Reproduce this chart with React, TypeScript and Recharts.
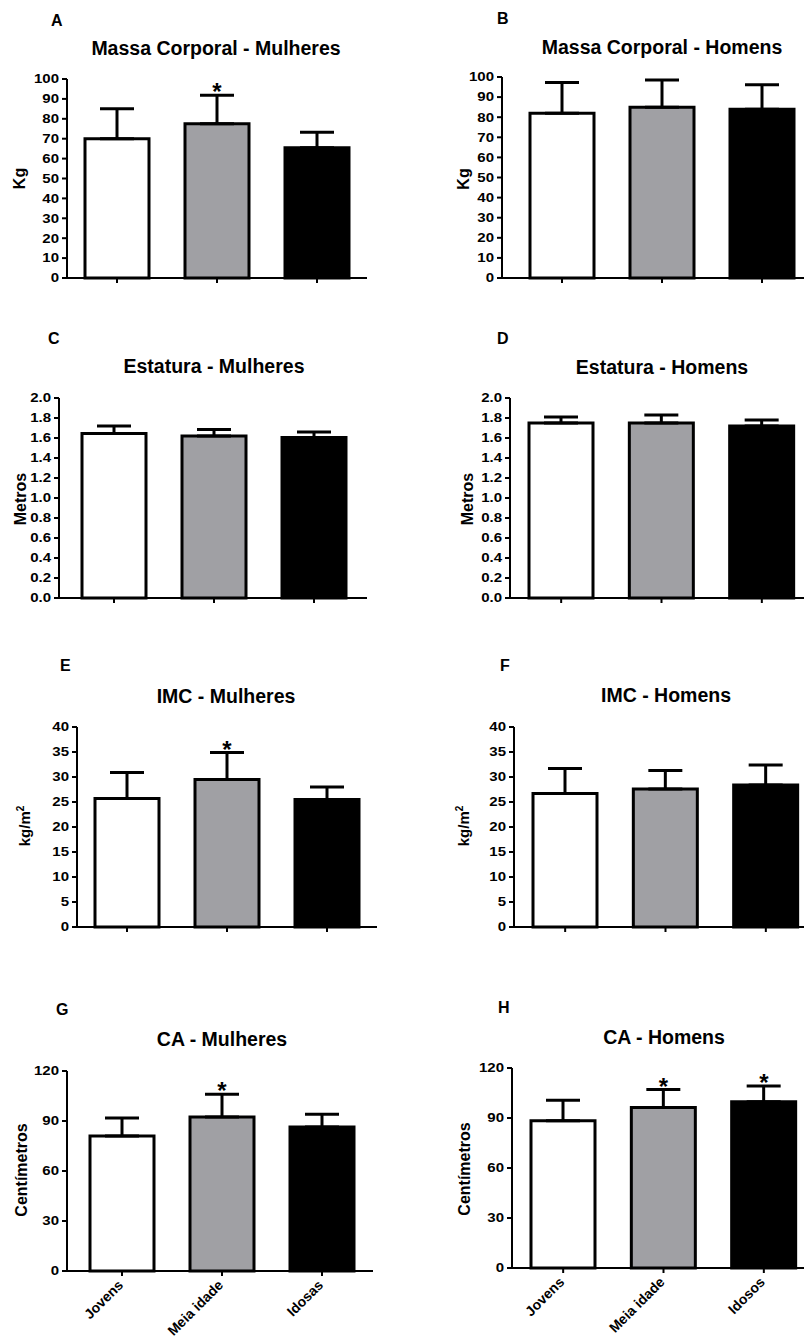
import React from 'react';
import { ComposedChart, Bar, Cell, ErrorBar, Line, XAxis, YAxis } from 'recharts';

const FONT = '"Liberation Sans", Arial, Helvetica, sans-serif';

// grupos etários
const gruposF = ['Jovens', 'Meia idade', 'Idosas'];
const gruposM = ['Jovens', 'Meia idade', 'Idosos'];
const cores = ['#ffffff', '#a0a0a4', '#000000'];

// massa corporal (kg) - média e desvio padrão
const massaF = [70, 77.5, 65.5];
const massaFdp = [15, 14.3, 7.8];
const massaM = [82, 85, 84];
const massaMdp = [15.3, 13.5, 12.2];

// estatura (m)
const estaturaF = [1.645, 1.62, 1.605];
const estaturaFdp = [0.075, 0.065, 0.055];
const estaturaM = [1.75, 1.75, 1.72];
const estaturaMdp = [0.06, 0.08, 0.06];

// IMC (kg/m2)
const imcF = [25.7, 29.5, 25.5];
const imcFdp = [5.2, 5.4, 2.5];
const imcM = [26.7, 27.6, 28.4];
const imcMdp = [5.0, 3.7, 4.0];

// circunferência abdominal (cm)
const caF = [81, 92.4, 86.4];
const caFdp = [10.8, 13.6, 7.6];
const caM = [88.3, 96.3, 99.7];
const caMdp = [12.4, 10.8, 9.5];

// * diferença significativa
const sigMassaF = [false, true, false];
const sigNenhum = [false, false, false];
const sigImcF = [false, true, false];
const sigCaF = [false, true, false];
const sigCaM = [false, true, true];

const ticksMassa = [0, 10, 20, 30, 40, 50, 60, 70, 80, 90, 100];
const ticksEstatura = [0, 0.2, 0.4, 0.6, 0.8, 1.0, 1.2, 1.4, 1.6, 1.8, 2.0];
const ticksImc = [0, 5, 10, 15, 20, 25, 30, 35, 40];
const ticksCa = [0, 30, 60, 90, 120];

const rows = (grupos: string[], media: number[], dp: number[], sig: boolean[]) =>
  grupos.map((g, i) => ({
    grupo: g,
    media: media[i],
    err: [0, dp[i]],
    star: sig[i] ? media[i] + dp[i] : null,
  }));

const renderStar = (p: any) => {
  if (p.value == null || p.cy == null) return <g key={`s${p.index}`} />;
  return (
    <text
      key={`s${p.index}`}
      x={p.cx}
      y={p.cy + 5}
      textAnchor="middle"
      fontSize={24}
      fontWeight="bold"
      fontFamily={FONT}
      fill="#000"
    >
      *
    </text>
  );
};

const YTick = ({ x, y, payload, decimals }: any) => (
  <text
    transform={`translate(${x},${y}) scale(1.25,1)`}
    textAnchor="end"
    dy="0.36em"
    fontSize={12}
    fontWeight="bold"
    fontFamily={FONT}
    fill="#000"
  >
    {Number(payload.value).toFixed(decimals)}
  </text>
);

const XTick = ({ x, y, payload }: any) => (
  <text
    x={x + 2}
    y={y + 8}
    transform={`rotate(-45, ${x + 2}, ${y + 8})`}
    textAnchor="end"
    fontSize={14}
    fontWeight="bold"
    fontFamily={FONT}
    fill="#000"
  >
    {payload.value}
  </text>
);

interface PanelProps {
  data: ReturnType<typeof rows>;
  plot: { l: number; r: number; t: number; b: number };
  pad: [number, number];
  ticks: number[];
  decimals?: number;
  labels?: boolean;
}

function Panel({ data, plot, pad, ticks, decimals = 0, labels = false }: PanelProps) {
  const yW = 60;
  const mt = 12;
  const mr = 2;
  const xH = labels ? 80 : 12;
  const width = plot.r - plot.l + yW + mr;
  const height = plot.b - plot.t + mt + xH;
  const line = { stroke: '#000', strokeWidth: 2 };

  return (
    <div style={{ position: 'absolute', left: plot.l - yW, top: plot.t - mt, width, height }}>
      <ComposedChart width={width} height={height} data={data} margin={{ top: mt, right: mr, bottom: 0, left: 0 }}>
        <XAxis
          dataKey="grupo"
          height={xH}
          padding={{ left: pad[0], right: pad[1] }}
          axisLine={line}
          tickLine={line}
          tickSize={5}
          tickMargin={2}
          interval={0}
          tick={labels ? (p: any) => <XTick {...p} /> : () => <g />}
        />
        <YAxis
          width={yW}
          domain={[0, ticks[ticks.length - 1]]}
          ticks={ticks}
          interval={0}
          axisLine={line}
          tickLine={line}
          tickSize={5}
          tickMargin={3}
          tick={(p: any) => <YTick {...p} decimals={decimals} />}
        />
        <Bar dataKey="media" barSize={64} stroke="#000" strokeWidth={3} isAnimationActive={false}>
          {data.map((_, i) => (
            <Cell key={i} fill={cores[i]} />
          ))}
          <ErrorBar dataKey="err" direction="y" width={17} stroke="#000" strokeWidth={3} isAnimationActive={false} />
        </Bar>
        <Line
          dataKey="star"
          stroke="none"
          dot={renderStar}
          activeDot={false}
          legendType="none"
          isAnimationActive={false}
        />
      </ComposedChart>
    </div>
  );
}

const letras: [string, number, number][] = [
  ['A', 51, 26], ['B', 497, 24], ['C', 48, 344], ['D', 497, 344],
  ['E', 60, 671], ['F', 500, 671], ['G', 56, 1015], ['H', 498, 1013],
];

const titulos: [string, number, number][] = [
  ['Massa Corporal - Mulheres', 216, 55], ['Massa Corporal - Homens', 662, 54],
  ['Estatura - Mulheres', 214, 373], ['Estatura - Homens', 662, 374],
  ['IMC - Mulheres', 226, 703], ['IMC - Homens', 666, 702],
  ['CA - Mulheres', 222, 1046], ['CA - Homens', 664, 1044],
];

const eixosY: [string, number, number][] = [
  ['Kg', 25, 178.5], ['Kg', 469, 179], ['Metros', 26, 499], ['Metros', 473, 499],
  ['kg/m', 30, 826], ['kg/m', 469, 826], ['Centímetros', 27, 1170], ['Centímetros', 470, 1169],
];

export default function App() {
  return (
    <div
      style={{
        position: 'absolute',
        left: 0,
        top: 0,
        width: 804,
        height: 1340,
        overflow: 'hidden',
        background: '#fff',
        fontFamily: FONT,
      }}
    >
      <Panel data={rows(gruposF, massaF, massaFdp, sigMassaF)} plot={{ l: 67, r: 367, t: 79, b: 278 }} pad={[0, 0]} ticks={ticksMassa} />
      <Panel data={rows(gruposM, massaM, massaMdp, sigNenhum)} plot={{ l: 502, r: 812, t: 77, b: 278 }} pad={[10, 0]} ticks={ticksMassa} />
      <Panel data={rows(gruposF, estaturaF, estaturaFdp, sigNenhum)} plot={{ l: 59, r: 367, t: 398, b: 598 }} pad={[5, 3]} ticks={ticksEstatura} decimals={1} />
      <Panel data={rows(gruposM, estaturaM, estaturaMdp, sigNenhum)} plot={{ l: 510, r: 812, t: 398, b: 598 }} pad={[1, 0]} ticks={ticksEstatura} decimals={1} />
      <Panel data={rows(gruposF, imcF, imcFdp, sigImcF)} plot={{ l: 77, r: 377, t: 727, b: 927 }} pad={[0, 0]} ticks={ticksImc} />
      <Panel data={rows(gruposM, imcM, imcMdp, sigNenhum)} plot={{ l: 514, r: 816, t: 727, b: 927 }} pad={[1, 0]} ticks={ticksImc} />
      <Panel data={rows(gruposF, caF, caFdp, sigCaF)} plot={{ l: 67, r: 373, t: 1071, b: 1271 }} pad={[5, 1]} ticks={ticksCa} labels />
      <Panel data={rows(gruposM, caM, caMdp, sigCaM)} plot={{ l: 512, r: 814, t: 1068, b: 1268 }} pad={[1, 0]} ticks={ticksCa} labels />

      <svg
        width={804}
        height={1340}
        style={{ position: 'absolute', left: 0, top: 0, pointerEvents: 'none' }}
        fontFamily={FONT}
        fontWeight="bold"
        fill="#000"
      >
        {letras.map(([t, x, y]) => (
          <text key={t} x={x} y={y} fontSize={16}>
            {t}
          </text>
        ))}
        {titulos.map(([t, x, y]) => (
          <text key={t} x={x} y={y} fontSize={19.5} textAnchor="middle">
            {t}
          </text>
        ))}
        {eixosY.map(([t, x, y], i) => (
          <text
            key={i}
            transform={`translate(${x},${y}) rotate(-90)`}
            fontSize={t === 'kg/m' ? 15 : 16}
            textAnchor="middle"
          >
            {t}
            {t === 'kg/m' && (
              <tspan fontSize={10} dy={-6}>
                2
              </tspan>
            )}
          </text>
        ))}
      </svg>
    </div>
  );
}
